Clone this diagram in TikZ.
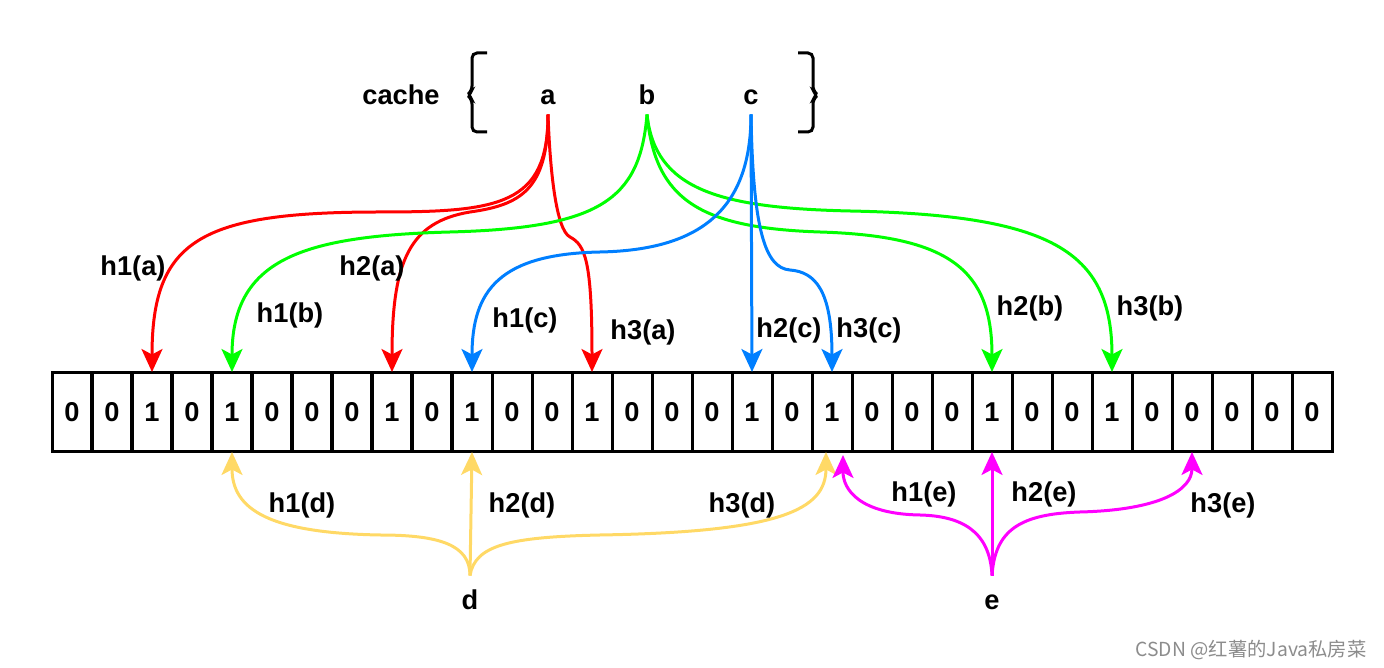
\documentclass[tikz,border=0pt]{standalone}
\usepackage{fontspec}
\setmainfont{Liberation Sans}
\newfontfamily\cjkfont{Noto Sans CJK SC}
\usepackage{tikz}
\usetikzlibrary{positioning,%
  arrows.meta,%
  calc
}

\definecolor{hred}{HTML}{FF0000}
\definecolor{hgreen}{HTML}{00FF00}
\definecolor{hblue}{HTML}{007FFF}
\definecolor{hyellow}{HTML}{FFD966}
\definecolor{hpink}{HTML}{FF00FF}

\begin{document}
\begin{tikzpicture}
                    [
                        x=0.02cm, y=-0.02cm,
                        every node/.style={font=\fontsize{15.5}{18}\selectfont\bfseries, inner sep=0pt},
                        every path/.style={line width=0.06cm},
                        bit/.style={draw, minimum width=0.8cm, minimum height=1.6cm, outer sep=0pt},
                        key/.style={text height=0.38cm, text depth=0cm, minimum height=0.72cm},
                        hash/.style={-{Stealth[length=0.46cm,width=0.42cm,inset=0.11cm]}}
                    ]
                    
                    % Rahmen
                    \useasboundingbox (0,0) rectangle (1384,668);
                    
                    % cache
                    \node[key] (cache) at (401,95) {cache};
                    \node[key] (a) at (548,95) {a};
                    \node[key] (b) at (647,95) {b};
                    \node[key] (c) at (751,95) {c};
                    \draw[rounded corners=0.1cm] (487,53) -- (472,53) -- (472,91) -- (467,95) -- (472,99) -- (472,132) -- (487,132);
                    \draw[rounded corners=0.1cm] (798,53) -- (813,53) -- (813,91) -- (818,95) -- (813,99) -- (813,132) -- (798,132);
                    
                    % Bitarray
                    \foreach \v [count=\i from 0] in {0,0,1,0,1,0,0,0,1,0,1,0,0,1,0,0,0,1,0,1,0,0,0,1,0,0,1,0,0,0,0,0}
                        \node[bit] (bit\i) at (72+40*\i,412) {\v};
                    
                    \node[key, minimum height=0.92cm] (d) at (470,600) {d};
                    \node[key, minimum height=0.92cm] (e) at (992,600) {e};
                    
                    % a
                    \draw[hash, hred] (a.south) .. controls (548,205) and (500,212) .. (380,212) .. controls (200,212) and (152,240) .. (bit2.north);
                    \draw[hash, hred] (a.south) .. controls (548,190) and (520,205) .. (470,212) .. controls (410,222) and (392,260) .. (bit8.north);
                    \draw[hash, hred] (a.south) .. controls (550,170) and (556,230) .. (570,237) .. controls (585,245) and (592,260) .. (bit13.north);
                    % b
                    \draw[hash, hgreen] (b.south) .. controls (640,200) and (600,228) .. (450,232) .. controls (300,236) and (232,260) .. (bit4.north);
                    \draw[hash, hgreen] (b.south) .. controls (655,200) and (700,228) .. (820,232) .. controls (950,236) and (992,270) .. (bit23.north);
                    \draw[hash, hgreen] (b.south) .. controls (655,190) and (720,208) .. (850,211) .. controls (1050,215) and (1112,250) .. (bit26.north);
                    % c
                    \draw[hash, hblue] (c.south) .. controls (751,210) and (700,250) .. (600,252) .. controls (500,254) and (472,290) .. (bit10.north);
                    \draw[hash, hblue] (c.south) -- (bit17.north);
                    \draw[hash, hblue] (c.south) .. controls (753,230) and (765,268) .. (790,270) .. controls (815,272) and (832,290) .. (bit19.north);
                    % d
                    \draw[hash, hyellow] (d.north) .. controls (470,545) and (440,535) .. (380,535) .. controls (270,533) and (232,510) .. (bit4.south);
                    \draw[hash, hyellow] (d.north) -- (bit10.south);
                    \draw[hash, hyellow] (d.north) .. controls (475,545) and (510,537) .. (600,535) .. controls (780,532) and (826,510) .. ([xshift=-0.12cm]bit19.south);
                    % e
                    \draw[hash, hpink] (e.north) .. controls (990,530) and (960,516) .. (920,515) .. controls (860,514) and (843,490) .. ([xshift=0.22cm,yshift=-0.06cm]bit19.south);
                    \draw[hash, hpink] (e.north) -- (bit23.south);
                    \draw[hash, hpink] (e.north) .. controls (995,530) and (1020,514) .. (1080,512) .. controls (1160,510) and (1192,490) .. (bit28.south);
                    
                    % Beschriftungen
                    \node (h1a) at (133,268) {h1(a)};
                    \node (h2a) at (372,268) {h2(a)};
                    \node (h3a) at (643,332) {h3(a)};
                    \node (h1b) at (290,315) {h1(b)};
                    \node (h2b) at (1030,308) {h2(b)};
                    \node (h3b) at (1150,308) {h3(b)};
                    \node (h1c) at (525,320) {h1(c)};
                    \node (h2c) at (789,330) {h2(c)};
                    \node (h3c) at (869,330) {h3(c)};
                    \node (h1d) at (302,505) {h1(d)};
                    \node (h2d) at (522,505) {h2(d)};
                    \node (h3d) at (742,505) {h3(d)};
                    \node (h1e) at (924,494) {h1(e)};
                    \node (h2e) at (1044,494) {h2(e)};
                    \node (h3e) at (1223,505) {h3(e)};
                    
                    \node[font=\cjkfont\fontsize{11}{13}\selectfont, text=black!45, anchor=east] (mark) at (1368,650) {CSDN @红薯的Java私房菜};
                \end{tikzpicture}
\end{document}
